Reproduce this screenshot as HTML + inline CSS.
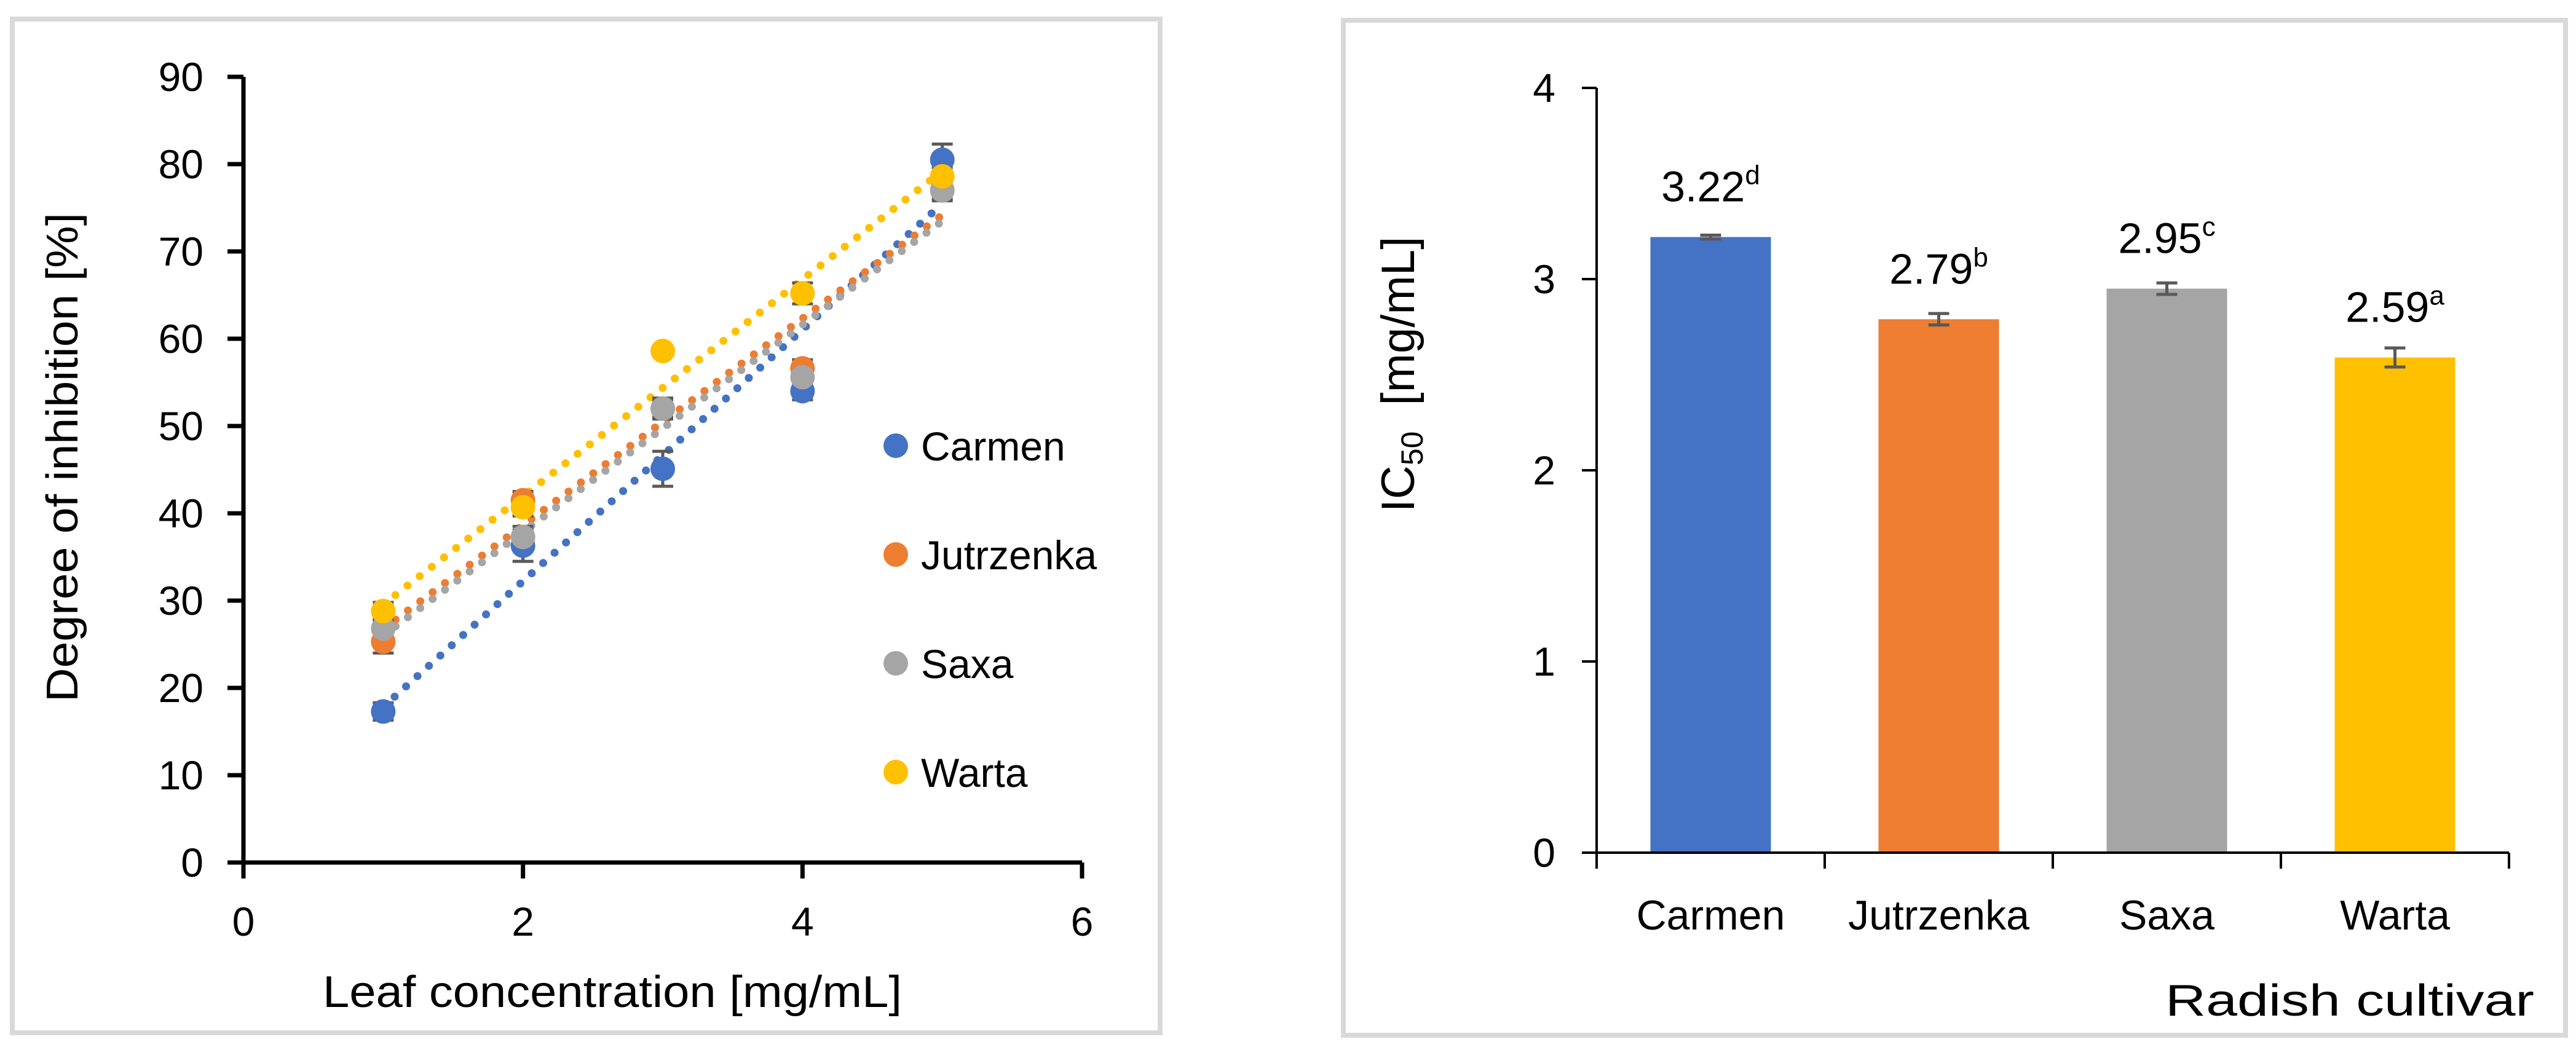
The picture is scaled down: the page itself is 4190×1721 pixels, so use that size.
<!DOCTYPE html>
<html><head><meta charset="utf-8"><style>
html,body{margin:0;padding:0;background:#fff;}
svg{display:block;font-family:"Liberation Sans",sans-serif;}
</style></head><body>
<svg id="fig" width="4190" height="1721" viewBox="0 0 4190 1721" xmlns="http://www.w3.org/2000/svg">
<rect x="20" y="31" width="1867" height="1649" fill="#fff" stroke="#d9d9d9" stroke-width="8"/>
<rect x="2185" y="33" width="1988" height="1651" fill="#fff" stroke="#d9d9d9" stroke-width="8"/>
<g id="left"></g>
<g id="right"></g>
</svg>
<script>
// ---- Left chart data ----
const concentrations = [1, 2, 3, 4, 5];
const seriesNames = ["Carmen", "Jutrzenka", "Saxa", "Warta"];
const carmenValues = [17.3, 36.3, 45.1, 54.0, 80.5];
const jutrzenkaValues = [25.3, 41.5, 52.0, 56.6, 77.0];
const saxaValues = [26.8, 37.3, 52.0, 55.6, 77.0];
const wartaValues = [28.8, 40.7, 58.6, 65.2, 78.6];
const carmenErrors = [1.0, 1.8, 2.0, 1.0, 1.8];
const jutrzenkaErrors = [1.3, 1.0, 1.0, 1.0, 1.0];
const saxaErrors = [1.0, 1.2, 1.2, 1.0, 1.2];
const wartaErrors = [1.0, 1.0, 0.5, 1.2, 1.0];
const yTicksLeft = [0, 10, 20, 30, 40, 50, 60, 70, 80, 90];
const xTicksLeft = [0, 2, 4, 6];
// ---- Right chart data ----
const cultivars = ["Carmen", "Jutrzenka", "Saxa", "Warta"];
const ic50Values = [3.22, 2.79, 2.95, 2.59];
const ic50Errors = [0.01, 0.03, 0.03, 0.05];
const ic50Letters = ["d", "b", "c", "a"];
const yTicksRight = [0, 1, 2, 3, 4];

const colors = ["#4472C4", "#ED7D31", "#A5A5A5", "#FFC000"];
const NS = "http://www.w3.org/2000/svg";
function mk(parent, tag, attrs, text) {
  const e = document.createElementNS(NS, tag);
  for (const k in attrs) e.setAttribute(k, attrs[k]);
  if (text !== undefined) e.textContent = text;
  parent.appendChild(e);
  return e;
}

// ===== Left scatter =====
const L = document.getElementById("left");
const lx = v => 396 + v * (1760 - 396) / 6;
const ly = v => 1403 - v * (1403 - 125) / 90;
const allVals = [carmenValues, jutrzenkaValues, saxaValues, wartaValues];
const allErrs = [carmenErrors, jutrzenkaErrors, saxaErrors, wartaErrors];

let e;
e = mk(L, "line", {x1: lx(0), y1: ly(0), x2: lx(6), y2: ly(0), stroke: "#000", "stroke-width": 7});


e = mk(L, "line", {x1: lx(0), y1: ly(0) + 3, x2: lx(0), y2: ly(90), stroke: "#000", "stroke-width": 7});


yTicksLeft.forEach(t => {
  const tk = mk(L, "line", {x1: lx(0) - 26, y1: ly(t), x2: lx(0), y2: ly(t), stroke: "#000", "stroke-width": 7});
  
  
  const lb = mk(L, "text", {x: 331, y: ly(t) + 23, "font-size": 66, "text-anchor": "end", fill: "#000"}, String(t));
  
  
});
xTicksLeft.forEach(t => {
  const tk = mk(L, "line", {x1: lx(t), y1: ly(0), x2: lx(t), y2: ly(0) + 26, stroke: "#000", "stroke-width": 7});
  
  
  const lb = mk(L, "text", {x: lx(t), y: 1522, "font-size": 66, "text-anchor": "middle", fill: "#000"}, String(t));
  
  
});
e = mk(L, "text", {x: 996, y: 1638, "font-size": 72, "text-anchor": "middle", textLength: 942, lengthAdjust: "spacingAndGlyphs", fill: "#000"}, "Leaf concentration [mg/mL]");


e = mk(L, "text", {x: 0, y: 0, "font-size": 72, "text-anchor": "middle", textLength: 796, lengthAdjust: "spacingAndGlyphs", fill: "#000", transform: "translate(126,744) rotate(-90)"}, "Degree of inhibition [%]");



allVals.forEach((vals, s) => {
  const n = concentrations.length;
  const mx = concentrations.reduce((a, b) => a + b, 0) / n;
  const my = vals.reduce((a, b) => a + b, 0) / n;
  let sxy = 0, sxx = 0;
  for (let i = 0; i < n; i++) { sxy += (concentrations[i] - mx) * (vals[i] - my); sxx += (concentrations[i] - mx) ** 2; }
  const b = sxy / sxx, a = my - b * mx;
  const x0 = concentrations[0], x1 = concentrations[n - 1];
  const tl = mk(L, "line", {x1: lx(x0), y1: ly(a + b * x0), x2: lx(x1), y2: ly(a + b * x1), stroke: colors[s], "stroke-width": 13, "stroke-linecap": "round", "stroke-dasharray": "0 25"});
  
  
});
allVals.forEach((vals, s) => {
  vals.forEach((v, i) => {
    const er = allErrs[s][i];
    const g = mk(L, "g", {});
    
    
    mk(g, "line", {x1: lx(concentrations[i]), y1: ly(v - er), x2: lx(concentrations[i]), y2: ly(v + er), stroke: "#595959", "stroke-width": 5});
    mk(g, "line", {x1: lx(concentrations[i]) - 17, y1: ly(v - er), x2: lx(concentrations[i]) + 17, y2: ly(v - er), stroke: "#595959", "stroke-width": 5});
    mk(g, "line", {x1: lx(concentrations[i]) - 17, y1: ly(v + er), x2: lx(concentrations[i]) + 17, y2: ly(v + er), stroke: "#595959", "stroke-width": 5});
  });
});
allVals.forEach((vals, s) => {
  vals.forEach((v, i) => {
    const c = mk(L, "circle", {cx: lx(concentrations[i]), cy: ly(v), r: 20, fill: colors[s]});
    
    
  });
});
seriesNames.forEach((nm, s) => {
  const y = 725 + s * 177;
  const g = mk(L, "g", {});
  
  
  mk(g, "circle", {cx: 1457, cy: y, r: 20, fill: colors[s]});
  mk(g, "text", {x: 1498, y: y + 24, "font-size": 66, fill: "#000"}, nm);
});

// ===== Right bar chart =====
const R = document.getElementById("right");
const x0r = 2597, x1r = 4081;
const band = (x1r - x0r) / cultivars.length;
const rx = i => x0r + band * (i + 0.5);
const ry = v => 1387 - v * (1387 - 143) / 4;
const barW = 196;

cultivars.forEach((c, i) => {
  const b = mk(R, "rect", {x: rx(i) - barW / 2, y: ry(ic50Values[i]), width: barW, height: ry(0) - ry(ic50Values[i]), fill: colors[i]});
  
  
  const v = ic50Values[i], er = ic50Errors[i];
  const g = mk(R, "g", {});
  
  
  mk(g, "line", {x1: rx(i), y1: ry(v - er), x2: rx(i), y2: ry(v + er), stroke: "#595959", "stroke-width": 5});
  mk(g, "line", {x1: rx(i) - 17, y1: ry(v - er), x2: rx(i) + 17, y2: ry(v - er), stroke: "#595959", "stroke-width": 5});
  mk(g, "line", {x1: rx(i) - 17, y1: ry(v + er), x2: rx(i) + 17, y2: ry(v + er), stroke: "#595959", "stroke-width": 5});
  const t = mk(R, "text", {x: rx(i), y: ry(v) - 58, "font-size": 70, "text-anchor": "middle", fill: "#000"});
  
  
  mk(t, "tspan", {}, v.toFixed(2));
  mk(t, "tspan", {"font-size": 44, dy: -28}, ic50Letters[i]);
  const cl = mk(R, "text", {x: rx(i), y: 1512, "font-size": 68, "text-anchor": "middle", fill: "#000"}, c);
  
  
});
e = mk(R, "line", {x1: x0r, y1: ry(0), x2: x1r, y2: ry(0), stroke: "#000", "stroke-width": 4});


e = mk(R, "line", {x1: x0r, y1: ry(0), x2: x0r, y2: ry(4), stroke: "#000", "stroke-width": 4});


for (let i = 0; i <= cultivars.length; i++) {
  const tk = mk(R, "line", {x1: x0r + band * i, y1: ry(0), x2: x0r + band * i, y2: ry(0) + 26, stroke: "#000", "stroke-width": 4});
  
  
}
yTicksRight.forEach(t => {
  const tk = mk(R, "line", {x1: x0r - 24, y1: ry(t), x2: x0r, y2: ry(t), stroke: "#000", "stroke-width": 4});
  
  
  const lb = mk(R, "text", {x: 2530, y: ry(t) + 23, "font-size": 66, "text-anchor": "end", fill: "#000"}, String(t));
  
  
});
e = mk(R, "text", {x: 4122, y: 1652, "font-size": 72, "text-anchor": "end", textLength: 600, lengthAdjust: "spacingAndGlyphs", fill: "#000"}, "Radish cultivar");


e = mk(R, "text", {x: 0, y: 0, "font-size": 76, "text-anchor": "middle", fill: "#000", transform: "translate(2300,609) rotate(-90)"});


mk(e, "tspan", {}, "IC");
mk(e, "tspan", {"font-size": 50, dy: 14}, "50");
mk(e, "tspan", {dy: -14}, "\u00a0 [mg/mL]");
</script>
</body></html>
